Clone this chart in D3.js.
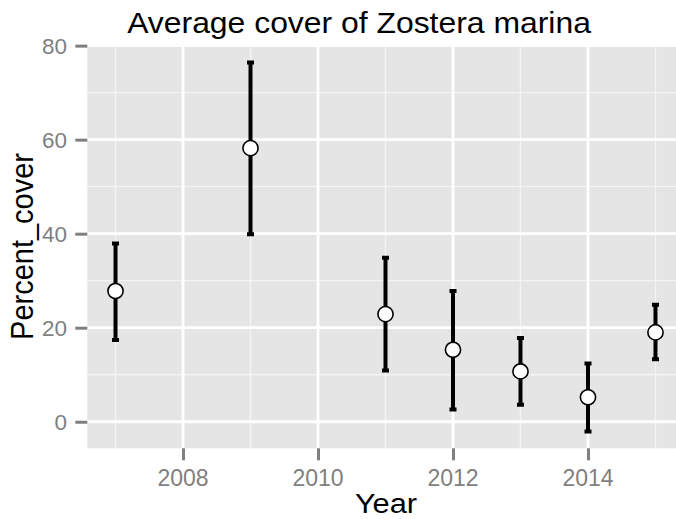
<!DOCTYPE html>
<html>
<head>
<meta charset="utf-8">
<script src="https://cdn.jsdelivr.net/npm/d3@7"></script>
<style>
  html, body { margin: 0; padding: 0; background: #fff; }
  svg { display: block; }
  text { font-family: "Liberation Sans", Arial, sans-serif; }
</style>
</head>
<body>
<svg id="chart" width="676" height="519"></svg>
<script>
// ---- Data ----
const years = [2007, 2009, 2011, 2012, 2013, 2014, 2015];
const means = [27.8, 58.2, 22.9, 15.3, 10.7, 5.2, 19.0];
const upper = [37.9, 76.4, 34.9, 27.8, 17.8, 12.4, 24.9];
const lower = [17.4, 39.9, 10.9, 2.6, 3.6, -2.1, 13.3];

const xTicks = [2008, 2010, 2012, 2014];
const xMinor = [2007, 2009, 2011, 2013, 2015];
const yTicks = [0, 20, 40, 60, 80];
const yMinor = [10, 30, 50, 70];

const titleText = "Average cover of Zostera marina";
const xTitle = "Year";
const yTitle = "Percent_cover";

// ---- Layout ----
const W = 676, H = 519;
const panel = { left: 87.3, right: 683.7, top: 44.7, bottom: 448.3 };
const stretch = 1.1;

const svg = d3.select("#chart");
svg.append("rect").attr("width", W).attr("height", H).attr("fill", "#fff");

const x = d3.scaleLinear().domain([2006.582, 2015.418]).range([panel.left, panel.right]);
const y = d3.scaleLinear().domain([-5.65, 80.2]).range([panel.bottom, panel.top]);

// panel background
svg.append("rect")
  .attr("x", panel.left).attr("y", panel.top)
  .attr("width", panel.right - panel.left).attr("height", panel.bottom - panel.top)
  .attr("fill", "#e5e5e5");

const grid = svg.append("g");
// minor grid
grid.selectAll("line.xminor").data(xMinor).join("line")
  .attr("x1", d => x(d)).attr("x2", d => x(d))
  .attr("y1", panel.top).attr("y2", panel.bottom)
  .attr("stroke", "#f4f4f4").attr("stroke-width", 1.3);
grid.selectAll("line.yminor").data(yMinor).join("line")
  .attr("y1", d => y(d)).attr("y2", d => y(d))
  .attr("x1", panel.left).attr("x2", panel.right)
  .attr("stroke", "#f4f4f4").attr("stroke-width", 1.3);
// major grid
grid.selectAll("line.xmajor").data(xTicks).join("line")
  .attr("x1", d => x(d)).attr("x2", d => x(d))
  .attr("y1", panel.top).attr("y2", panel.bottom)
  .attr("stroke", "#fff").attr("stroke-width", 2.8);
grid.selectAll("line.ymajor").data(yTicks).join("line")
  .attr("y1", d => y(d)).attr("y2", d => y(d))
  .attr("x1", panel.left).attr("x2", panel.right)
  .attr("stroke", "#fff").attr("stroke-width", 2.8);

// axes ticks (d3 axes)
const tickCol = "#7f7f7f";
const xAxis = d3.axisBottom(x).tickValues(xTicks).tickFormat(d3.format("d")).tickSize(12).tickPadding(0);
const gx = svg.append("g").attr("transform", `translate(0,${panel.bottom})`).call(xAxis);
gx.select(".domain").remove();
gx.selectAll(".tick line").attr("stroke", tickCol).attr("stroke-width", 3);
gx.selectAll(".tick text").remove();

const yAxis = d3.axisLeft(y).tickValues(yTicks).tickFormat(d3.format("d")).tickSize(12).tickPadding(0);
const gy = svg.append("g").attr("transform", `translate(${panel.left},0)`).call(yAxis);
gy.select(".domain").remove();
gy.selectAll(".tick line").attr("stroke", tickCol).attr("stroke-width", 3);
gy.selectAll(".tick text").remove();

// tick labels
svg.append("g").selectAll("text").data(xTicks).join("text")
  .attr("x", d => x(d)).attr("y", 485.5)
  .attr("text-anchor", "middle")
  .attr("font-size", 23).attr("fill", tickCol)
  .text(d => d);

svg.append("g").selectAll("text").data(yTicks).join("text")
  .attr("x", 67).attr("y", d => y(d) + 8)
  .attr("text-anchor", "end")
  .attr("font-size", 22.5).attr("fill", tickCol)
  .text(d => d);

// error bars
const capHalf = 0.052;
const bars = svg.append("g");
bars.selectAll("path").data(years).join("path")
  .attr("d", (d, i) => {
    const xl = x(d - capHalf), xr = x(d + capHalf), xc = x(d);
    const yu = y(upper[i]), yl = y(lower[i]);
    return `M${xl},${yu}H${xr}M${xc},${yu}V${yl}M${xl},${yl}H${xr}`;
  })
  .attr("fill", "none").attr("stroke", "#000").attr("stroke-width", 4);

// points
svg.append("g").selectAll("circle").data(years).join("circle")
  .attr("cx", d => x(d)).attr("cy", (d, i) => y(means[i]))
  .attr("r", 7.6)
  .attr("fill", "#fff").attr("stroke", "#000").attr("stroke-width", 1.6);

// titles
svg.append("text")
  .attr("transform", `translate(359,33) scale(${stretch},1)`)
  .attr("text-anchor", "middle").attr("font-size", 29).attr("fill", "#000")
  .text(titleText);

svg.append("text")
  .attr("transform", `translate(386,513) scale(${stretch},1)`)
  .attr("text-anchor", "middle").attr("font-size", 28).attr("fill", "#000")
  .text(xTitle);

svg.append("text")
  .attr("transform", `translate(33,246.5) scale(${stretch},1) rotate(-90)`)
  .attr("text-anchor", "middle").attr("font-size", 29).attr("fill", "#000")
  .text(yTitle);
</script>
</body>
</html>
